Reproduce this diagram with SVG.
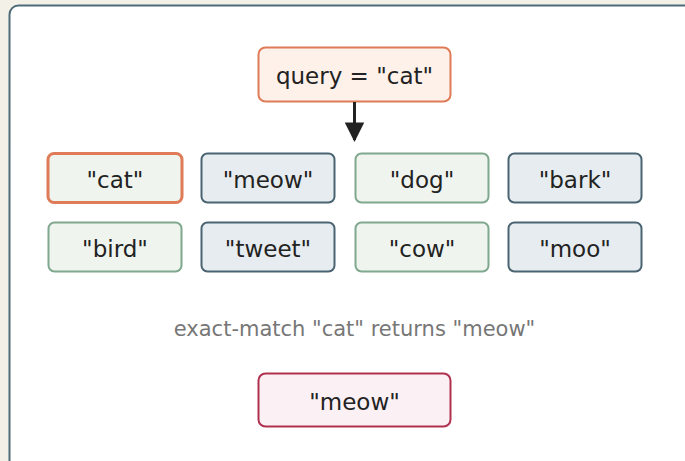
<svg xmlns="http://www.w3.org/2000/svg" width="685" height="461" viewBox="0 0 685 461">
<style>
text{font-family:"DejaVu Sans","Noto Sans",sans-serif;font-size:23px;fill:#222;text-anchor:middle;dominant-baseline:central}
.k rect{fill:#eff4ee;stroke:#7fa88e;stroke-width:2}
.v rect{fill:#e6ecef;stroke:#4a6472;stroke-width:2}
.hit rect{stroke:#e07b58;stroke-width:3}
.cap{font-size:21px;fill:#777}
</style>
<defs>
<marker id="ah" viewBox="0 0 10 10" refX="9" refY="5" markerWidth="6.5" markerHeight="6.5" orient="auto" markerUnits="strokeWidth"><path d="M0,0L10,5L0,10z" fill="#222"/></marker>
</defs>
<rect width="685" height="461" fill="#f3f0e8"/>
<rect x="9.5" y="5.5" width="700" height="480" rx="9" fill="#fff" stroke="#4e6b78" stroke-width="2"/>
<g id="query"><rect x="258.5" y="47.5" width="192" height="54" rx="7" fill="#fdf1ea" stroke="#e07b58" stroke-width="2"/><text x="354.5" y="76">query = "cat"</text></g>
<g id="connectors"><line x1="354.5" y1="102" x2="354.5" y2="140" stroke="#222" stroke-width="3" marker-end="url(#ah)"/></g>
<g id="k-cat" class="k hit"><rect x="48" y="153.5" width="134" height="49" rx="6"/><text x="115" y="180">"cat"</text></g>
<g id="v-meow" class="v"><rect x="201.5" y="153.5" width="133" height="49" rx="6"/><text x="268" y="180">"meow"</text></g>
<g id="k-dog" class="k"><rect x="355.5" y="153.5" width="133" height="49" rx="6"/><text x="422" y="180">"dog"</text></g>
<g id="v-bark" class="v"><rect x="508.5" y="153.5" width="133" height="49" rx="6"/><text x="575" y="180">"bark"</text></g>
<g id="k-bird" class="k"><rect x="48.5" y="222.5" width="133" height="49" rx="6"/><text x="115" y="249">"bird"</text></g>
<g id="v-tweet" class="v"><rect x="201.5" y="222.5" width="133" height="49" rx="6"/><text x="268" y="249">"tweet"</text></g>
<g id="k-cow" class="k"><rect x="355.5" y="222.5" width="133" height="49" rx="6"/><text x="422" y="249">"cow"</text></g>
<g id="v-moo" class="v"><rect x="508.5" y="222.5" width="133" height="49" rx="6"/><text x="575" y="249">"moo"</text></g>
<text class="cap" x="354.5" y="329">exact-match "cat" returns "meow"</text>
<g id="result"><rect x="258.5" y="373.5" width="192" height="53" rx="7" fill="#fbf0f3" stroke="#b03050" stroke-width="2"/><text x="354.5" y="402">"meow"</text></g>
</svg>
